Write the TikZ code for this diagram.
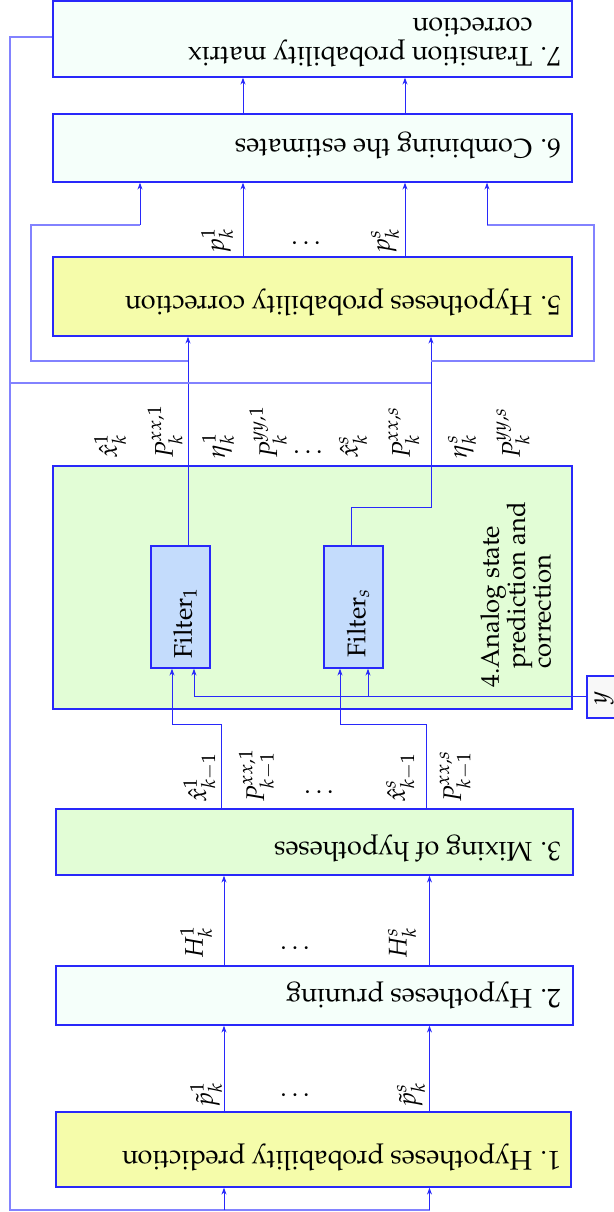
\documentclass[tikz,border=0pt]{standalone}
\usepackage[T1]{fontenc}
\usepackage{mathpazo}
\usetikzlibrary{arrows.meta}
\definecolor{bl}{RGB}{40,40,250}
\definecolor{lbl}{RGB}{130,130,255}
\definecolor{cyanbg}{RGB}{245,255,250}
\definecolor{yel}{RGB}{245,252,170}
\definecolor{grn}{RGB}{226,253,214}
\definecolor{flt}{RGB}{196,220,252}
\definecolor{ybg}{RGB}{248,248,248}
\begin{document}
\begin{tikzpicture}[x=0.5pt,y=-0.5pt,
  every node/.style={font=\fontsize{12.8}{14.8}\selectfont},
  box/.style={draw=bl, line width=0.6pt, inner sep=0pt},
  ln/.style={draw=bl, line width=0.5pt},
  lln/.style={draw=lbl, line width=0.7pt},
  arr/.style={-{Stealth[length=3.5pt,width=2.5pt]}},
  lab/.style={rotate=90, anchor=west, inner sep=0pt},
  ttl/.style={rotate=180, anchor=west, inner sep=0pt, font=\fontsize{13.5}{14.8}\selectfont},
  dts/.style={inner sep=0pt}]
\clip (0,0) rectangle (614,1212);
% boxes
\node[box, fill=cyanbg, minimum width=259.5pt, minimum height=38pt] (b7) at (312.5,39) {};
\node[box, fill=cyanbg, minimum width=259.5pt, minimum height=34pt] (b6) at (312.5,148) {};
\node[box, fill=yel, minimum width=259.5pt, minimum height=39.5pt] (b5) at (312.5,296.5) {};
\node[box, fill=grn, minimum width=259.5pt, minimum height=121.5pt] (b4) at (312.5,587.5) {};
\node[box, fill=grn, minimum width=258.5pt, minimum height=33pt] (b3) at (314.5,842) {};
\node[box, fill=cyanbg, minimum width=258.5pt, minimum height=29.5pt] (b2) at (314.5,995.5) {};
\node[box, fill=yel, minimum width=257.5pt, minimum height=37.5pt] (b1) at (313.5,1149.5) {};
\node[box, fill=flt, minimum width=29.5pt, minimum height=61pt] (f1) at (180.5,607) {};
\node[box, fill=flt, minimum width=29.5pt, minimum height=61pt] (fs) at (353.5,607) {};
\node[box, fill=ybg, minimum width=31.5pt, minimum height=21pt] (yb) at (618.5,697) {};
% box texts
\node[ttl] (t7) at (561,39) {\begin{tabular}{@{}l@{}l@{}}7.\kern0.3em&Transition probability matrix\\&correction\end{tabular}};
\node[ttl] (t6) at (561,145) {6. Combining the estimates};
\node[ttl] (t5) at (561,302) {5. Hypotheses probability correction};
\node[ttl] (t3) at (561,848) {3. Mixing of hypotheses};
\node[ttl] (t2) at (561,995) {2. Hypotheses pruning};
\node[ttl] (t1) at (561,1157) {1. Hypotheses probability prediction};
\node[rotate=90, anchor=north west, inner sep=0pt] (t4) at (480,688) {\renewcommand\arraystretch{0.86}\begin{tabular}{@{}l@{}l@{}}4.&Analog state\\&prediction and\\&correction\end{tabular}};
\node[rotate=90, inner sep=0pt] (tf1) at (185,623) {Filter$_1$};
\node[rotate=90, inner sep=0pt] (tfs) at (358,623) {Filter$_s$};
\node[rotate=90, inner sep=0pt] (ty) at (604,698) {$y$};
% labels
\node[lab] (l51) at (217,254) {$p_k^1$};
\node[dts] (d5) at (306,243) {$\dots$};
\node[lab] (l5s) at (385,254) {$p_k^s$};
\node[lab] (l41) at (110,459) {$\hat{x}_k^1$};
\node[lab] (l42) at (165,459) {$P_k^{xx,1}$};
\node[lab] (l43) at (218,459) {$\eta_k^1$};
\node[lab] (l44) at (268,459) {$P_k^{yy,1}$};
\node[dts] (d4) at (308,452) {$\dots$};
\node[lab] (l45) at (353,459) {$\hat{x}_k^s$};
\node[lab] (l46) at (404,459) {$P_k^{xx,s}$};
\node[lab] (l47) at (462,459) {$\eta_k^s$};
\node[lab] (l48) at (513,459) {$P_k^{yy,s}$};
\node[lab] (l31) at (200,803) {$\hat{x}_{k-1}^1$};
\node[lab] (l32) at (257,803) {$P_{k-1}^{xx,1}$};
\node[dts] (d3) at (319,792) {$\dots$};
\node[lab] (l33) at (401,803) {$\hat{x}_{k-1}^s$};
\node[lab] (l34) at (456,803) {$P_{k-1}^{xx,s}$};
\node[lab] (l21) at (196,959) {$H_k^1$};
\node[dts] (d2) at (295,948) {$\dots$};
\node[lab] (l2s) at (402,959) {$H_k^s$};
\node[lab] (l11) at (206,1108) {$\tilde{p}_k^1$};
\node[dts] (d1) at (295,1095) {$\dots$};
\node[lab] (l1s) at (411,1108) {$\tilde{p}_k^s$};
% column coordinates
\coordinate (cA) at (140,0);
\coordinate (cB) at (243,0);
\coordinate (cC) at (405,0);
\coordinate (cD) at (487,0);
\coordinate (cF) at (188,0);
\coordinate (cS) at (351,0);
\coordinate (cR) at (431,0);
\coordinate (cL) at (31,0);
\coordinate (cRR) at (594,0);
\coordinate (cO) at (10,0);
\coordinate (cM1) at (221,0);
\coordinate (cM2) at (426,0);
\coordinate (cI1) at (172,0);
\coordinate (cI2) at (340,0);
\coordinate (cY1) at (194,0);
\coordinate (cY2) at (368,0);
\coordinate (cH1) at (224,0);
\coordinate (cH2) at (429.5,0);
\coordinate (rTop) at (0,225);
\coordinate (rBot) at (0,361);
\coordinate (rMid) at (0,383);
\coordinate (rS) at (0,507);
\coordinate (rM) at (0,724);
\coordinate (rY) at (0,696);
\coordinate (rB) at (0,1210);
% 6 -> 7
\draw[ln,arr] (cB |- b6.north) -- (cB |- b7.south);
\draw[ln,arr] (cC |- b6.north) -- (cC |- b7.south);
% 5 -> 6
\draw[ln,arr] (cB |- b5.north) -- (cB |- b6.south);
\draw[ln,arr] (cC |- b5.north) -- (cC |- b6.south);
% filter outputs -> 5
\draw[ln,arr] (cF |- f1.north) -- (cF |- b5.south);
\draw[ln,arr] (cS |- fs.north) -- (cS |- rS) -- (cR |- rS) -- (cR |- b5.south);
% loops to 6
\draw[lln] (cF |- rBot) -- (cL |- rBot) -- (cL |- rTop) -- (cA |- rTop);
\draw[ln,arr] (cA |- rTop) -- (cA |- b6.south);
\draw[lln] (cR |- rBot) -- (cRR |- rBot) -- (cRR |- rTop) -- (cD |- rTop);
\draw[ln,arr] (cD |- rTop) -- (cD |- b6.south);
% outer feedback
\draw[lln] (b7.west |- 0,37) -- (cO |- 0,37) -- (cO |- rB) -- (cH2 |- rB);
\draw[lln] (cO |- rMid) -- (cR |- rMid);
\draw[ln,arr] (cH1 |- rB) -- (cH1 |- b1.south);
\draw[ln,arr] (cH2 |- rB) -- (cH2 |- b1.south);
% 1 -> 2 -> 3
\draw[ln,arr] (cH1 |- b1.north) -- (cH1 |- b2.south);
\draw[ln,arr] (cH2 |- b1.north) -- (cH2 |- b2.south);
\draw[ln,arr] (cH1 |- b2.north) -- (cH1 |- b3.south);
\draw[ln,arr] (cH2 |- b2.north) -- (cH2 |- b3.south);
% 3 -> filters
\draw[ln,arr] (cM1 |- b3.north) -- (cM1 |- rM) -- (cI1 |- rM) -- (cI1 |- f1.south);
\draw[ln,arr] (cM2 |- b3.north) -- (cM2 |- rM) -- (cI2 |- rM) -- (cI2 |- fs.south);
% y -> filters
\draw[ln] (yb.west |- rY) -- (cY1 |- rY);
\draw[ln,arr] (cY1 |- rY) -- (cY1 |- f1.south);
\draw[ln,arr] (cY2 |- rY) -- (cY2 |- fs.south);
\end{tikzpicture}
\end{document}
